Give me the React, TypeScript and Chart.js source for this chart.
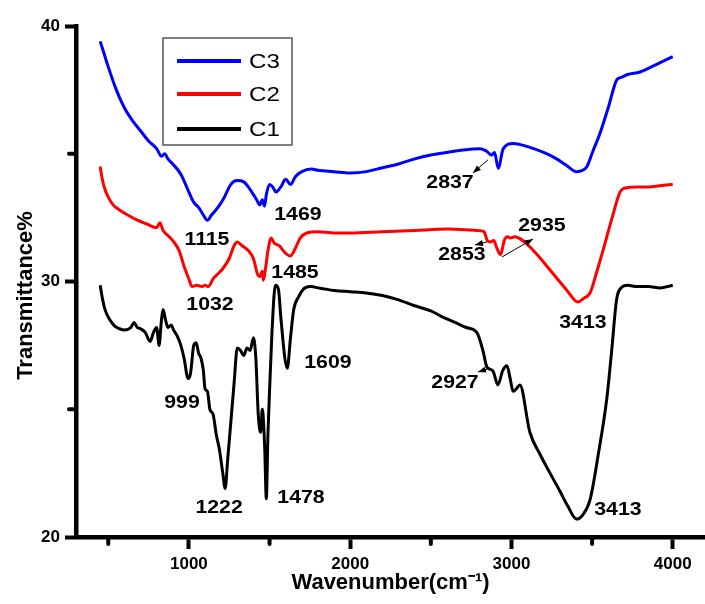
import React, { useEffect, useRef } from "react";
import { Chart, registerables } from "chart.js";

Chart.register(...registerables);

// ---------- data ----------
const c3Wavenumbers = [
  450, 470, 500, 550, 600, 650, 700, 750, 800, 830, 850, 870, 900, 950, 1000, 1030, 1060, 1090, 1115, 1140,
  1180, 1220, 1260, 1300, 1340, 1380, 1420, 1440, 1455, 1469, 1480, 1500, 1520, 1540, 1570, 1600, 1630, 1660,
  1700, 1760, 1800, 1900, 2000, 2100, 2200, 2300, 2400, 2500, 2600, 2700, 2805, 2846, 2877, 2895, 2918, 2949,
  3011, 3114, 3200, 3280, 3340, 3404, 3440, 3468, 3505, 3549, 3600, 3654, 3685, 3720, 3797, 3900, 4000,
];
const c3Transmittance = [
  39.4, 39.0, 38.4, 37.5, 36.8, 36.3, 35.9, 35.5, 35.2, 34.9, 35.0, 34.8, 34.6, 34.2, 33.5, 33.1, 32.9, 32.6, 32.4, 32.6,
  32.9, 33.3, 33.8, 33.95, 33.9, 33.6, 33.2, 33.0, 33.2, 32.95, 33.4, 33.8, 33.7, 33.5, 33.7, 34.0, 33.8, 34.1,
  34.3, 34.4, 34.35, 34.3, 34.25, 34.3, 34.45, 34.6, 34.8, 34.95, 35.05, 35.15, 35.2, 35.1, 34.95, 35.05, 34.43, 35.2,
  35.4, 35.25, 35.05, 34.8, 34.55, 34.3, 34.35, 34.5, 35.1, 35.8, 36.8, 37.9, 38.0, 38.1, 38.2, 38.5, 38.8,
];

const c2Wavenumbers = [
  450, 460, 475, 500, 530, 570, 620, 680, 740, 800, 820, 840, 870, 900, 940, 970, 1000, 1020, 1050, 1080,
  1100, 1120, 1150, 1180, 1210, 1250, 1280, 1300, 1330, 1370, 1400, 1425, 1440, 1455, 1462, 1475, 1490, 1510,
  1530, 1560, 1600, 1630, 1660, 1690, 1730, 1800, 1900, 2000, 2200, 2400, 2600, 2784, 2830, 2850, 2870, 2890,
  2910, 2933, 2955, 2975, 2995, 3020, 3060, 3090, 3160, 3239, 3342, 3412, 3450, 3487, 3530, 3567, 3620, 3673,
  3700, 3780, 3850, 3920, 4000,
];
const c2Transmittance = [
  34.5, 34.1, 33.7, 33.3, 33.0, 32.8, 32.6, 32.4, 32.25, 32.1, 32.3, 32.0, 31.8, 31.6, 31.2, 30.6, 30.1, 29.8, 29.85, 29.8,
  29.85, 29.8, 30.1, 30.3, 30.5, 30.9, 31.4, 31.55, 31.4, 31.2, 30.9, 30.3, 30.2, 30.4, 30.05, 30.5, 31.2, 31.7,
  31.5, 31.4, 31.1, 31.0, 31.3, 31.7, 31.9, 31.95, 31.9, 31.9, 31.95, 32.0, 32.05, 32.0, 31.95, 31.6, 31.55, 31.6,
  31.3, 31.05, 31.6, 31.75, 31.7, 31.75, 31.65, 31.5, 31.05, 30.45, 29.67, 29.2, 29.35, 29.55, 30.4, 31.2, 32.4, 33.5,
  33.65, 33.7, 33.7, 33.75, 33.8,
];

const c1Wavenumbers = [
  450, 465, 480, 510, 540, 570, 600, 640, 660, 680, 700, 730, 760, 780, 800, 815, 830, 840, 855, 870,
  890, 905, 925, 950, 970, 995, 1010, 1030, 1045, 1060, 1075, 1090, 1100, 1115, 1130, 1150, 1170, 1190, 1210,
  1225, 1240, 1260, 1280, 1300, 1320, 1340, 1360, 1380, 1400, 1415, 1430, 1445, 1455, 1470, 1480, 1490, 1500,
  1515, 1536, 1555, 1570, 1595, 1610, 1630, 1650, 1680, 1720, 1760, 1800, 1900, 2000, 2100, 2200, 2290, 2400,
  2500, 2577, 2650, 2720, 2786, 2823, 2848, 2885, 2916, 2945, 2972, 2992, 3010, 3030, 3052, 3114, 3180, 3239,
  3300, 3350, 3404, 3440, 3487, 3540, 3590, 3620, 3652, 3680, 3720, 3780, 3850, 3920, 4000,
];
const c1Transmittance = [
  29.85, 29.3, 28.9, 28.5, 28.25, 28.15, 28.1, 28.2, 28.4, 28.2, 28.15, 28.0, 27.65, 28.0, 28.2, 27.5, 28.5, 28.9, 28.5, 28.2,
  28.3, 28.1, 27.9, 27.5, 27.0, 26.2, 26.4, 27.5, 27.6, 27.2, 27.0, 26.5, 25.8, 25.7, 25.0, 24.8, 24.0, 23.4, 22.5,
  21.9, 23.0, 24.5, 26.0, 27.4, 27.3, 27.1, 27.4, 27.3, 27.8, 27.0, 24.8, 24.1, 25.0, 23.5, 21.5, 24.0, 25.7,
  28.0, 29.85, 29.7, 28.6, 27.0, 26.6, 27.8, 28.9, 29.4, 29.75, 29.8, 29.75, 29.65, 29.6, 29.55, 29.45, 29.3, 29.05,
  28.85, 28.6, 28.4, 28.2, 28.0, 27.3, 26.65, 26.5, 25.95, 26.5, 26.7, 26.2, 25.7, 25.8, 25.95, 24.1, 23.2, 22.5,
  21.8, 21.2, 20.7, 20.85, 21.45, 23.3, 25.36, 27.2, 29.3, 29.75, 29.85, 29.8, 29.8, 29.75, 29.85,
];

const seriesLabels = ["C3", "C2", "C1"];
const seriesColors = ["#0000FF", "#FF0000", "#000000"];

const xMajorTicks = [1000, 2000, 3000, 4000];
const xMinorTicks = [500, 1500, 2500, 3500];
const yMajorTicks = [20, 30, 40];
const yMinorTicks = [25, 35];

// peak annotations (text centre in data coordinates)
const peakTexts = ["1115", "1469", "1032", "1485", "2837", "2853", "2935", "3413", "999", "1222", "1478", "1609", "2927", "3413"];
const peakTextX = [1112, 1676, 1131, 1658, 2619, 2693, 3189, 3443, 957, 1187, 1695, 1862, 2650, 3660];
const peakTextY = [31.62, 32.6, 29.08, 30.33, 33.86, 31.04, 32.17, 28.38, 25.24, 21.13, 21.53, 26.81, 26.03, 21.06];

// arrows: tail -> head (data coordinates)
const arrowTailX = [2854, 2848, 2941, 2867];
const arrowTailY = [34.76, 31.55, 30.96, 26.61];
const arrowHeadX = [2761, 2774, 3133, 2792];
const arrowHeadY = [34.25, 31.43, 31.66, 26.46];

const FONT = "'Liberation Sans', Arial, Helvetica, sans-serif";

function pts(xs: number[], ys: number[]) {
  return xs.map((x, i) => ({ x, y: ys[i] }));
}

const decorPlugin = {
  id: "ftirDecor",
  afterDraw(chart: any) {
    const { ctx, chartArea } = chart;
    const x = chart.scales.x;
    const y = chart.scales.y;
    ctx.save();

    // minor ticks
    ctx.strokeStyle = "#000";
    ctx.lineWidth = 4;
    ctx.lineCap = "round";
    xMinorTicks.forEach((v) => {
      const px = x.getPixelForValue(v);
      ctx.beginPath();
      ctx.moveTo(px, chartArea.bottom);
      ctx.lineTo(px, chartArea.bottom + 7);
      ctx.stroke();
    });
    yMinorTicks.forEach((v) => {
      const py = y.getPixelForValue(v);
      ctx.beginPath();
      ctx.moveTo(chartArea.left, py);
      ctx.lineTo(chartArea.left - 7, py);
      ctx.stroke();
    });
    ctx.lineCap = "butt";

    // peak labels
    ctx.fillStyle = "#000";
    ctx.font = `bold 19px ${FONT}`;
    ctx.textAlign = "center";
    ctx.textBaseline = "middle";
    peakTexts.forEach((t, i) => {
      ctx.save();
      ctx.translate(x.getPixelForValue(peakTextX[i]), y.getPixelForValue(peakTextY[i]));
      ctx.scale(1.12, 1);
      ctx.fillText(t, 0, 0);
      ctx.restore();
    });

    // arrows
    ctx.lineWidth = 1;
    arrowTailX.forEach((_, i) => {
      const x0 = x.getPixelForValue(arrowTailX[i]);
      const y0 = y.getPixelForValue(arrowTailY[i]);
      const x1 = x.getPixelForValue(arrowHeadX[i]);
      const y1 = y.getPixelForValue(arrowHeadY[i]);
      const ang = Math.atan2(y1 - y0, x1 - x0);
      ctx.beginPath();
      ctx.moveTo(x0, y0);
      ctx.lineTo(x1, y1);
      ctx.stroke();
      const L = 8, W = 3;
      ctx.beginPath();
      ctx.moveTo(x1, y1);
      ctx.lineTo(x1 - L * Math.cos(ang) + W * Math.sin(ang), y1 - L * Math.sin(ang) - W * Math.cos(ang));
      ctx.lineTo(x1 - L * Math.cos(ang) - W * Math.sin(ang), y1 - L * Math.sin(ang) + W * Math.cos(ang));
      ctx.closePath();
      ctx.fill();
    });

    // legend
    const bx = chartArea.left + 87;
    const by = chartArea.top + 12;
    const bw = 129;
    const bh = 107;
    ctx.strokeStyle = "#555";
    ctx.lineWidth = 1.5;
    ctx.strokeRect(bx, by, bw, bh);
    const rowY = [by + 23, by + 56, by + 91];
    chart.data.datasets.forEach((ds: any, i: number) => {
      ctx.strokeStyle = ds.borderColor;
      ctx.lineWidth = 4;
      ctx.beginPath();
      ctx.moveTo(bx + 14, rowY[i]);
      ctx.lineTo(bx + 78, rowY[i]);
      ctx.stroke();
      ctx.save();
      ctx.fillStyle = "#000";
      ctx.font = `21px ${FONT}`;
      ctx.textAlign = "left";
      ctx.textBaseline = "middle";
      ctx.translate(bx + 86, rowY[i] + 1);
      ctx.scale(1.15, 1);
      ctx.fillText(ds.label, 0, 0);
      ctx.restore();
    });

    // y axis title
    ctx.save();
    ctx.fillStyle = "#000";
    ctx.font = `bold 22px ${FONT}`;
    ctx.textAlign = "center";
    ctx.textBaseline = "middle";
    ctx.translate(26, (chartArea.top + chartArea.bottom) / 2 + 14);
    ctx.rotate(-Math.PI / 2);
    ctx.fillText("Transmittance%", 0, 0);
    ctx.restore();

    ctx.restore();
  },
};

export default function App() {
  const canvasRef = useRef<HTMLCanvasElement | null>(null);

  useEffect(() => {
    if (!canvasRef.current) return;
    const tickFont = { family: FONT, size: 17, weight: "bold" as const };
    const chart = new Chart(canvasRef.current, {
      type: "line",
      data: {
        datasets: [
          { label: seriesLabels[0], data: pts(c3Wavenumbers, c3Transmittance), borderColor: seriesColors[0] },
          { label: seriesLabels[1], data: pts(c2Wavenumbers, c2Transmittance), borderColor: seriesColors[1] },
          { label: seriesLabels[2], data: pts(c1Wavenumbers, c1Transmittance), borderColor: seriesColors[2] },
        ].map((d) => ({
          ...d,
          borderWidth: 3,
          pointRadius: 0,
          fill: false,
          cubicInterpolationMode: "monotone" as const,
        })),
      },
      options: {
        responsive: false,
        animation: false,
        layout: { padding: { top: 26, right: 0, left: 0, bottom: 0 } },
        plugins: { legend: { display: false }, tooltip: { enabled: false } },
        scales: {
          x: {
            type: "linear",
            min: 300,
            max: 4200,
            afterBuildTicks: (s: any) => {
              s.ticks = [...xMinorTicks, ...xMajorTicks].sort((a, b) => a - b).map((v) => ({ value: v }));
            },
            afterFit: (s: any) => {
              s.height = 67;
            },
            ticks: {
              autoSkip: false,
              maxRotation: 0,
              color: "#000",
              font: tickFont,
              padding: 5,
              callback: (v: any) => (xMajorTicks.includes(Number(v)) ? String(v) : ""),
            },
            grid: {
              display: true,
              drawOnChartArea: false,
              drawTicks: true,
              tickLength: 12,
              tickWidth: 4,
              tickColor: (c: any) => (c.tick && xMajorTicks.includes(c.tick.value) ? "#000" : "rgba(0,0,0,0)"),
            },
            border: { display: true, color: "#000", width: 4.5 },
            title: {
              display: true,
              text: "Wavenumber(cm⁻¹)",
              color: "#000",
              font: { family: FONT, size: 22, weight: "bold" },
              padding: { top: 0, bottom: 8 },
            },
          },
          y: {
            type: "linear",
            min: 20,
            max: 40,
            afterBuildTicks: (s: any) => {
              s.ticks = [...yMajorTicks, ...yMinorTicks].sort((a, b) => a - b).map((v) => ({ value: v }));
            },
            afterFit: (s: any) => {
              s.width = 76;
            },
            ticks: {
              autoSkip: false,
              color: "#000",
              font: tickFont,
              padding: 5,
              callback: (v: any) => (yMajorTicks.includes(Number(v)) ? String(v) : ""),
            },
            grid: {
              display: true,
              drawOnChartArea: false,
              drawTicks: true,
              tickLength: 11,
              tickWidth: 4,
              tickColor: (c: any) => (c.tick && yMajorTicks.includes(c.tick.value) ? "#000" : "rgba(0,0,0,0)"),
            },
            border: { display: true, color: "#000", width: 4.5 },
            title: { display: false },
          },
        },
      },
      plugins: [decorPlugin],
    });
    return () => chart.destroy();
  }, []);

  return (
    <div style={{ position: "absolute", left: 0, top: 0, width: 705, height: 604, background: "#fff" }}>
      <canvas ref={canvasRef} width={705} height={604} style={{ width: 705, height: 604, display: "block" }} />
    </div>
  );
}
